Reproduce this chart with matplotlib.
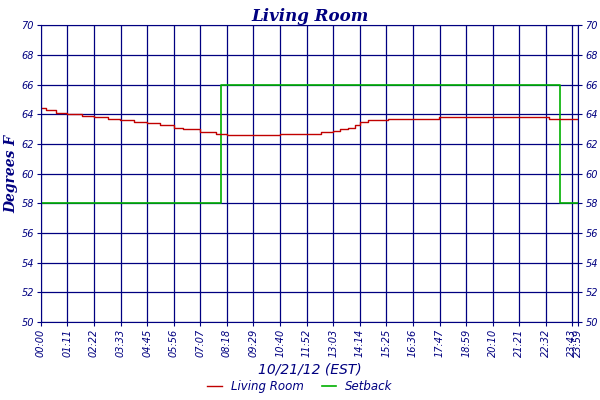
import matplotlib
matplotlib.use("Agg")
import matplotlib.pyplot as plt

# temperature samples (minutes, degF)
temp_min = [0, 15, 40, 71, 110, 142, 180, 213, 250, 285, 320, 356, 380, 427, 470, 499, 530, 570, 620, 640, 690, 711, 750, 782, 800, 823, 840, 855, 875, 900, 930, 960, 1000, 1067, 1100, 1138, 1200, 1280, 1360, 1400, 1439]
temp_val = [64.4, 64.3, 64.1, 64.0, 63.9, 63.8, 63.7, 63.6, 63.5, 63.4, 63.3, 63.1, 63.0, 62.8, 62.7, 62.6, 62.6, 62.6, 62.6, 62.7, 62.7, 62.7, 62.8, 62.9, 63.0, 63.1, 63.3, 63.5, 63.6, 63.6, 63.7, 63.7, 63.7, 63.8, 63.8, 63.8, 63.8, 63.8, 63.7, 63.7, 63.7]
set_min = [0, 483, 1391, 1439]
set_val = [58, 66, 58, 58]
tick_min = [i * 71.15 for i in range(21)] + [1439]
tick_lab = ["00:00", "01:11", "02:22", "03:33", "04:45", "05:56", "07:07", "08:18", "09:29", "10:40", "11:52",
            "13:03", "14:14", "15:25", "16:36", "17:47", "18:59", "20:10", "21:21", "22:32", "23:43", "23:59"]

navy = "#000080"
fig = plt.figure(figsize=(6, 4), dpi=100)
ax = fig.add_axes([0.068, 0.195, 0.896, 0.742])
ax.step(set_min, set_val, where="post", color="#00b000", lw=1.2, label="Setback")
ax.step(temp_min, temp_val, where="post", color="#c00000", lw=1.0, label="Living Room")
ax.set_xlim(0, 1439)
ax.set_ylim(50, 70)
ax.set_yticks(range(50, 71, 2))
ax.set_xticks(tick_min)
ax.set_xticklabels(tick_lab, rotation=90, fontsize=7, style="italic", color=navy)
ax.tick_params(axis="y", labelsize=7, labelcolor=navy, right=True, labelright=True, length=3, pad=2, color=navy)
ax.tick_params(axis="x", length=3, pad=2, color=navy)
for l in ax.get_yticklabels() + ax.get_yticklabels(which="both"):
    l.set_style("italic")
ax.grid(True, color=navy, lw=0.9)
for s in ax.spines.values():
    s.set_color(navy)
ax.set_title("Living Room", fontsize=12, style="italic", weight="bold", color=navy, family="DejaVu Serif", pad=3)
ax.set_ylabel("Degrees F", fontsize=10, style="italic", weight="bold", color=navy, family="DejaVu Serif", labelpad=2)
ax.set_xlabel("10/21/12 (EST)", fontsize=10, style="italic", color=navy, labelpad=4)
h, l = ax.get_legend_handles_labels()
leg = fig.legend(h[::-1], l[::-1], loc="lower center", bbox_to_anchor=(0.5, -0.01), ncol=2, frameon=False,
                 prop={"size": 8.5, "style": "italic"}, handlelength=1.2, columnspacing=1.5)
for t in leg.get_texts():
    t.set_color(navy)
fig.savefig("out.png")
